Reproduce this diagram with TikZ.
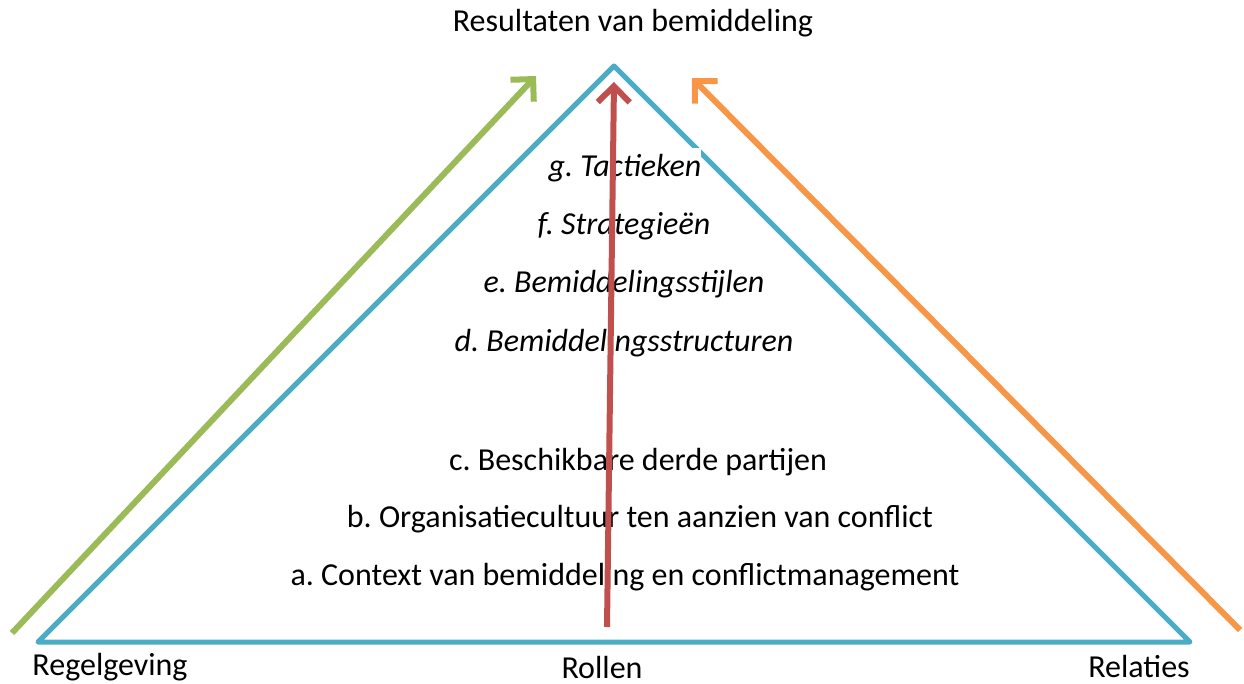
\documentclass[tikz,border=0pt]{standalone}
\usepackage{fontspec}
\setmainfont{Carlito}
\usetikzlibrary{arrows.meta}
\definecolor{triblue}{HTML}{4BACC6}
\definecolor{argreen}{HTML}{9BBB59}
\definecolor{arorange}{HTML}{F79646}
\definecolor{arred}{HTML}{C0504D}
\frenchspacing
\begin{document}
\begin{tikzpicture}[x=1pt,y=-1pt,
  lbl/.style={inner sep=0pt,anchor=center,font=\fontsize{32}{36}\selectfont},
  ilbl/.style={lbl,font=\fontsize{32}{36}\selectfont\itshape},
  arr/.style={line width=6pt,-{Straight Barb[length=16pt,width=32pt,line width=6pt]}},
  tri/.style={draw=triblue,line width=5pt,line join=round}]
\useasboundingbox (0,0) rectangle (1244,684);
\coordinate (A) at (614,66);
\coordinate (L) at (38,642);
\coordinate (R) at (1190,642);
\draw[tri] (A) -- (L) -- (R) -- cycle;
\fill[white] (540,148) rectangle (701,195);
\node[lbl] (top) at (633,23) {Resultaten van bemiddeling};
\node[ilbl] (g) at (625,168) {g. Tactieken};
\node[ilbl] (f) at (624,226) {f. Strategieën};
\node[ilbl] (e) at (624,284) {e. Bemiddelingsstijlen};
\node[ilbl] (d) at (624,343) {d. Bemiddelingsstructuren};
\node[lbl] (c) at (638,462) {c. Beschikbare derde partijen};
\node[lbl] (b) at (640,519) {b. Organisatiecultuur ten aanzien van conflict};
\node[lbl] (a) at (625,577) {a. Context van bemiddeling en conflictmanagement};
\node[lbl] (reg) at (110,667) {Regelgeving};
\node[lbl] (rol) at (602,667) {Rollen};
\node[lbl] (rel) at (1139,667) {Relaties};
\coordinate (gs) at (12,633);
\coordinate (ge) at (536,76);
\coordinate (os) at (1240,630);
\coordinate (oe) at (692,78);
\coordinate (rs) at (607,627);
\coordinate (re) at (614,82);
\draw[arr,argreen] (gs) -- (ge);
\draw[arr,arorange] (os) -- (oe);
\draw[arr,arred] (rs) -- (re);
\end{tikzpicture}
\end{document}
